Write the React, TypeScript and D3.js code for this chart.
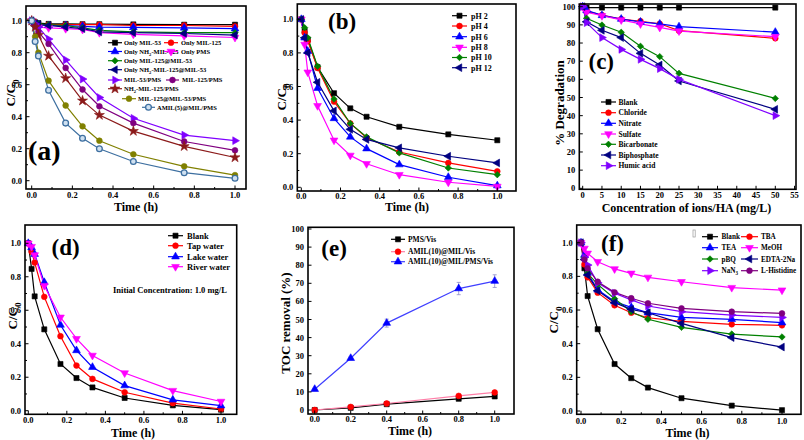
import React from 'react';
import * as d3 from 'd3';

const FONT = '"Liberation Serif", "Times New Roman", Times, serif';

// ---------------- data ----------------
const timeH = [0, 0.017, 0.033, 0.083, 0.167, 0.25, 0.333, 0.5, 0.75, 1.0];

// (a)
const aOnlyMIL53 = [1.0, 0.99, 0.985, 0.98, 0.98, 0.978, 0.978, 0.977, 0.975, 0.975];
const aOnlyMIL125 = [1.0, 0.985, 0.975, 0.975, 0.975, 0.975, 0.975, 0.97, 0.97, 0.965];
const aOnlyNH2MIL125 = [1.0, 0.98, 0.975, 0.97, 0.97, 0.965, 0.96, 0.958, 0.955, 0.95];
const aOnlyPMS = [1.0, 0.97, 0.96, 0.955, 0.95, 0.945, 0.925, 0.915, 0.905, 0.895];
const aOnlyMIL125MIL53 = [1.0, 0.985, 0.98, 0.975, 0.97, 0.955, 0.94, 0.93, 0.925, 0.925];
const aOnlyNH2MIL125MIL53 = [1.0, 0.98, 0.975, 0.97, 0.96, 0.95, 0.93, 0.925, 0.92, 0.91];
const aMIL53PMS = [1.0, 0.98, 0.96, 0.885, 0.755, 0.635, 0.52, 0.39, 0.285, 0.25];
const aMIL125PMS = [1.0, 0.97, 0.93, 0.855, 0.705, 0.57, 0.465, 0.36, 0.245, 0.19];
const aNH2MIL125PMS = [1.0, 0.96, 0.91, 0.78, 0.64, 0.5, 0.41, 0.31, 0.215, 0.145];
const aMIL125MIL53PMS = [1.0, 0.9, 0.8, 0.625, 0.47, 0.34, 0.25, 0.165, 0.09, 0.035];
const aAMIL5 = [1.0, 0.87, 0.78, 0.565, 0.36, 0.265, 0.2, 0.12, 0.05, 0.015];

// (b)
const bPH2 = [1.0, 0.93, 0.88, 0.715, 0.56, 0.47, 0.42, 0.36, 0.315, 0.28];
const bPH4 = [1.0, 0.92, 0.87, 0.71, 0.51, 0.38, 0.295, 0.21, 0.145, 0.095];
const bPH6 = [1.0, 0.89, 0.81, 0.59, 0.41, 0.3, 0.23, 0.135, 0.06, 0.01];
const bPH8 = [1.0, 0.85, 0.685, 0.485, 0.28, 0.19, 0.14, 0.075, 0.03, 0.005];
const bPH10 = [1.0, 0.95, 0.89, 0.72, 0.525, 0.38, 0.3, 0.205, 0.115, 0.075];
const bPH12 = [1.0, 0.89, 0.8, 0.625, 0.455, 0.345, 0.285, 0.235, 0.185, 0.145];

// (c)
const concC = [0, 1, 5, 10, 15, 20, 25, 50];
const cBlank = [100, 99.5, 99.5, 99.5, 99.5, 99.5, 99.5, 99.5];
const cChloride = [100, 97.6, 95.4, 93.2, 92, 90.6, 86.8, 82.6];
const cNitrate = [100, 98, 95.2, 93.2, 91.6, 90.5, 89, 86];
const cSulfate = [100, 96.9, 95, 92.7, 90.5, 88.6, 86.6, 83.5];
const cBicarbonate = [100, 93.6, 89.9, 85.9, 78.2, 72.5, 63.3, 49.5];
const cBiphosphate = [100, 91.7, 87, 83, 74.3, 67.9, 59.1, 43.5];
const cHumic = [100, 91.2, 83, 76.5, 71, 65.9, 60, 40];

// (d)
const dBlank = [1.0, 0.847, 0.683, 0.486, 0.279, 0.195, 0.139, 0.076, 0.032, 0.006];
const dTap = [1.0, 0.95, 0.885, 0.68, 0.445, 0.27, 0.19, 0.11, 0.045, 0.01];
const dLake = [1.0, 0.975, 0.935, 0.767, 0.512, 0.36, 0.26, 0.15, 0.065, 0.03];
const dRiver = [1.0, 0.98, 0.93, 0.747, 0.558, 0.43, 0.33, 0.225, 0.12, 0.055];

// (e)
const timeE = [0, 0.2, 0.4, 0.8, 1.0];
const ePMSVis = [0, 1.2, 3.2, 6.2, 7.5];
const eAMILVis = [0, 1.7, 3.6, 7.8, 9.7];
const eAMILPMSVis = [11.5, 28.6, 48, 67.1, 71.2];
const eAMILPMSVisErr = [0.5, 0.8, 2.2, 3.4, 3.5];

// (f)
const fBlank = [1.0, 0.848, 0.683, 0.486, 0.279, 0.195, 0.139, 0.076, 0.032, 0.005];
const fTBA = [1.0, 0.871, 0.794, 0.703, 0.628, 0.584, 0.554, 0.533, 0.515, 0.509];
const fTEA = [1.0, 0.927, 0.82, 0.72, 0.65, 0.616, 0.584, 0.556, 0.545, 0.525];
const fMeOH = [1.0, 0.966, 0.937, 0.887, 0.844, 0.818, 0.794, 0.768, 0.733, 0.718];
const fPBQ = [1.0, 0.913, 0.818, 0.752, 0.667, 0.59, 0.545, 0.497, 0.457, 0.44];
const fEDTA = [1.0, 0.9, 0.808, 0.715, 0.644, 0.604, 0.584, 0.521, 0.436, 0.38];
const fNaN3 = [1.0, 0.913, 0.867, 0.762, 0.7, 0.66, 0.624, 0.59, 0.57, 0.556];
const fLHis = [1.0, 0.9, 0.848, 0.768, 0.705, 0.67, 0.64, 0.61, 0.59, 0.58];

// tick values
const unitTicks = [0, 0.2, 0.4, 0.6, 0.8, 1.0];
const unitMinor = [0.1, 0.3, 0.5, 0.7, 0.9];
const concTicks = [0, 5, 10, 15, 20, 25, 30, 35, 40, 45, 50, 55];
const pctTicks = [0, 10, 20, 30, 40, 50, 60, 70, 80, 90, 100];

// ---------------- helpers ----------------
const C = {
  black: '#000000', red: '#FF0000', blue: '#0000FF', magenta: '#FF00FF',
  green: '#008000', navy: '#000080', violet: '#8000FF', purple: '#800080',
  wine: '#8B1A1A', olive: '#808000', steel: '#3D6FA0',
};

function Rich({ text, fs }: { text: string; fs: number }) {
  const parts = text.split(/(_.)/).filter((p) => p !== '');
  let shifted = false;
  return (
    <>
      {parts.map((p, i) => {
        if (p.startsWith('_')) {
          shifted = true;
          return (
            <tspan key={i} dy={fs * 0.3} fontSize={fs * 0.7}>
              {p.slice(1)}
            </tspan>
          );
        }
        const dy = shifted ? -fs * 0.3 : 0;
        shifted = false;
        return (
          <tspan key={i} dy={dy}>
            {p}
          </tspan>
        );
      })}
    </>
  );
}

function Marker({ type, x, y, color, size = 26 }: { type: string; x: number; y: number; color: string; size?: number }) {
  let sym: any = d3.symbolSquare;
  let rot = 0;
  let fill = color;
  switch (type) {
    case 'square': sym = d3.symbolSquare; break;
    case 'circle': sym = d3.symbolCircle; break;
    case 'open': sym = d3.symbolCircle; fill = '#cfe0f0'; break;
    case 'up': sym = d3.symbolTriangle; break;
    case 'down': sym = d3.symbolTriangle; rot = 180; break;
    case 'left': sym = d3.symbolTriangle; rot = -90; break;
    case 'right': sym = d3.symbolTriangle; rot = 90; break;
    case 'diamond': sym = d3.symbolSquare; rot = 45; size = size * 0.8; break;
    case 'star': sym = d3.symbolStar; size = size * 1.2; break;
    case 'hex': sym = d3.symbolCircle; break;
  }
  const d = d3.symbol(sym, size)() as string;
  return (
    <path
      d={d}
      transform={`translate(${x},${y}) rotate(${rot})`}
      fill={fill}
      stroke={color}
      strokeWidth={type === 'open' ? 1.3 : 0.6}
    />
  );
}

type Series = { x: number[]; y: number[]; color: string; line?: string; marker: string; err?: number[] };
type LegendItem = { label: string; color: string; line?: string; marker: string; x1: number; x2: number; tx: number; y: number };

type PanelCfg = {
  frame: [number, number, number, number];
  xs: d3.ScaleLinear<number, number>;
  ys: d3.ScaleLinear<number, number>;
  xTicks: number[];
  xMinor: number[];
  yTicks: number[];
  yMinor: number[];
  xFmt: (v: number) => string;
  yFmt: (v: number) => string;
  tickOff: number;
  xLabel: { text: string; x: number; y: number };
  yLabel: { text: string; x: number; y: number };
  series: Series[];
  legend: LegendItem[];
  legendFs: number;
  tag: { text: string; x: number; y: number; fs: number };
};

function Panel({ cfg }: { cfg: PanelCfg }) {
  const [x0, x1, y0, y1] = cfg.frame;
  const { xs, ys } = cfg;
  const lineGen = (s: Series) =>
    d3
      .line<number>()
      .x((_, i) => xs(s.x[i]))
      .y((v) => ys(v))(s.y) as string;
  const tickFs = 8.5;
  return (
    <g fontFamily={FONT} fontWeight="bold">
      {cfg.series.map((s, i) => (
        <path key={'l' + i} d={lineGen(s)} fill="none" stroke={s.line || s.color} strokeWidth={1.2} />
      ))}
      {cfg.series.map((s, i) =>
        s.err
          ? s.err.map((e, j) => {
              const cx = xs(s.x[j]);
              return (
                <g key={'e' + i + '-' + j} stroke="#8c8cc8" strokeWidth={0.8}>
                  <line x1={cx} x2={cx} y1={ys(s.y[j] - e)} y2={ys(s.y[j] + e)} />
                  <line x1={cx - 2} x2={cx + 2} y1={ys(s.y[j] - e)} y2={ys(s.y[j] - e)} />
                  <line x1={cx - 2} x2={cx + 2} y1={ys(s.y[j] + e)} y2={ys(s.y[j] + e)} />
                </g>
              );
            })
          : null
      )}
      {cfg.series.map((s, i) =>
        s.y.map((v, j) => <Marker key={'m' + i + '-' + j} type={s.marker} x={xs(s.x[j])} y={ys(v)} color={s.color} />)
      )}
      <rect x={x0} y={y0} width={x1 - x0} height={y1 - y0} fill="none" stroke="#000" strokeWidth={1.6} />
      {cfg.xTicks.map((t) => (
        <g key={'xt' + t}>
          <line x1={xs(t)} x2={xs(t)} y1={y1} y2={y1 - 3.5} stroke="#000" strokeWidth={1} />
          <text x={xs(t)} y={y1 + cfg.tickOff} fontSize={tickFs} textAnchor="middle">
            {cfg.xFmt(t)}
          </text>
        </g>
      ))}
      {cfg.xMinor.map((t) => (
        <line key={'xm' + t} x1={xs(t)} x2={xs(t)} y1={y1} y2={y1 - 2} stroke="#000" strokeWidth={1} />
      ))}
      {cfg.yTicks.map((t) => (
        <g key={'yt' + t}>
          <line x1={x0} x2={x0 + 3.5} y1={ys(t)} y2={ys(t)} stroke="#000" strokeWidth={1} />
          <text x={x0 - 4} y={ys(t) + 3} fontSize={tickFs} textAnchor="end">
            {cfg.yFmt(t)}
          </text>
        </g>
      ))}
      {cfg.yMinor.map((t) => (
        <line key={'ym' + t} x1={x0} x2={x0 + 2} y1={ys(t)} y2={ys(t)} stroke="#000" strokeWidth={1} />
      ))}
      <text x={cfg.xLabel.x} y={cfg.xLabel.y} fontSize={12} textAnchor="middle">
        {cfg.xLabel.text}
      </text>
      <text
        transform={`translate(${cfg.yLabel.x},${cfg.yLabel.y}) rotate(-90)`}
        fontSize={13}
        textAnchor="middle"
      >
        <Rich text={cfg.yLabel.text} fs={13} />
      </text>
      {cfg.legend.map((l, i) => (
        <g key={'lg' + i}>
          <line x1={l.x1} x2={l.x2} y1={l.y} y2={l.y} stroke={l.line || l.color} strokeWidth={1.2} />
          <Marker type={l.marker} x={(l.x1 + l.x2) / 2} y={l.y} color={l.color} />
          <text x={l.tx} y={l.y + cfg.legendFs * 0.35} fontSize={cfg.legendFs}>
            <Rich text={l.label} fs={cfg.legendFs} />
          </text>
        </g>
      ))}
      <text x={cfg.tag.x} y={cfg.tag.y} fontSize={cfg.tag.fs}>
        {cfg.tag.text}
      </text>
    </g>
  );
}

const f1 = (v: number) => v.toFixed(1);
const f0 = (v: number) => String(v);

// ---------------- panel configs ----------------
const panelA: PanelCfg = {
  frame: [26, 246, 6, 189],
  xs: d3.scaleLinear().domain([0, 1]).range([31.7, 235]),
  ys: d3.scaleLinear().domain([0, 1]).range([180.7, 20.7]),
  xTicks: unitTicks, xMinor: unitMinor, yTicks: unitTicks, yMinor: unitMinor,
  xFmt: f1, yFmt: f1, tickOff: 8.5,
  xLabel: { text: 'Time (h)', x: 136, y: 210.5 },
  yLabel: { text: 'C/C_0', x: 15, y: 93 },
  series: [
    { x: timeH, y: aOnlyMIL53, color: C.black, marker: 'square' },
    { x: timeH, y: aOnlyMIL125, color: C.red, marker: 'circle' },
    { x: timeH, y: aOnlyNH2MIL125, color: C.blue, marker: 'up' },
    { x: timeH, y: aOnlyPMS, color: C.magenta, marker: 'down' },
    { x: timeH, y: aOnlyMIL125MIL53, color: C.green, marker: 'diamond' },
    { x: timeH, y: aOnlyNH2MIL125MIL53, color: C.navy, marker: 'left' },
    { x: timeH, y: aMIL53PMS, color: C.violet, marker: 'right' },
    { x: timeH, y: aMIL125PMS, color: C.purple, marker: 'hex' },
    { x: timeH, y: aNH2MIL125PMS, color: C.wine, marker: 'star' },
    { x: timeH, y: aMIL125MIL53PMS, color: C.olive, marker: 'hex' },
    { x: timeH, y: aAMIL5, color: C.steel, marker: 'open' },
  ],
  legendFs: 6.5,
  legend: [
    { label: 'Only MIL-53', color: C.black, marker: 'square', x1: 108, x2: 122, tx: 124, y: 42.7 },
    { label: 'Only MIL-125', color: C.red, marker: 'circle', x1: 164, x2: 178, tx: 181, y: 42.7 },
    { label: 'Only NH_2-MIL-125', color: C.blue, marker: 'up', x1: 108, x2: 122, tx: 124, y: 51.5 },
    { label: 'Only PMS', color: C.magenta, marker: 'down', x1: 164, x2: 178, tx: 181, y: 51.5 },
    { label: 'Only MIL-125@MIL-53', color: C.green, marker: 'diamond', x1: 108, x2: 122, tx: 124, y: 60.7 },
    { label: 'Only NH_2-MIL-125@MIL-53', color: C.navy, marker: 'left', x1: 108, x2: 122, tx: 124, y: 69.7 },
    { label: 'MIL-53/PMS', color: C.violet, marker: 'right', x1: 108, x2: 122, tx: 124, y: 80 },
    { label: 'MIL-125/PMS', color: C.purple, marker: 'hex', x1: 166, x2: 179, tx: 182, y: 80 },
    { label: 'NH_2-MIL-125/PMS', color: C.wine, marker: 'star', x1: 108, x2: 122, tx: 124, y: 88.7 },
    { label: 'MIL-125@MIL-53/PMS', color: C.olive, marker: 'hex', x1: 122, x2: 136, tx: 138, y: 98.7 },
    { label: 'AMIL(5)@MIL/PMS', color: C.steel, marker: 'open', x1: 142, x2: 155, tx: 157, y: 107.3 },
  ],
  tag: { text: '(a)', x: 28, y: 160, fs: 28 },
};

const panelB: PanelCfg = {
  frame: [297.3, 516, 4, 191],
  xs: d3.scaleLinear().domain([0, 1]).range([301.3, 497.3]),
  ys: d3.scaleLinear().domain([0, 1]).range([187.3, 19.3]),
  xTicks: unitTicks, xMinor: unitMinor, yTicks: unitTicks, yMinor: unitMinor,
  xFmt: f1, yFmt: f1, tickOff: 7.5,
  xLabel: { text: 'Time (h)', x: 407, y: 211 },
  yLabel: { text: 'C/C_0', x: 286, y: 97 },
  series: [
    { x: timeH, y: bPH2, color: C.black, marker: 'square' },
    { x: timeH, y: bPH4, color: C.red, marker: 'circle' },
    { x: timeH, y: bPH6, color: C.blue, marker: 'up' },
    { x: timeH, y: bPH8, color: C.magenta, marker: 'down' },
    { x: timeH, y: bPH10, color: C.green, marker: 'diamond' },
    { x: timeH, y: bPH12, color: C.navy, marker: 'left' },
  ],
  legendFs: 8,
  legend: [
    { label: 'pH 2', color: C.black, marker: 'square', x1: 452, x2: 467, tx: 471, y: 15.7 },
    { label: 'pH 4', color: C.red, marker: 'circle', x1: 452, x2: 467, tx: 471, y: 26 },
    { label: 'pH 6', color: C.blue, marker: 'up', x1: 452, x2: 467, tx: 471, y: 36.7 },
    { label: 'pH 8', color: C.magenta, marker: 'down', x1: 452, x2: 467, tx: 471, y: 47.3 },
    { label: 'pH 10', color: C.green, marker: 'diamond', x1: 452, x2: 467, tx: 471, y: 57.5 },
    { label: 'pH 12', color: C.navy, marker: 'left', x1: 452, x2: 467, tx: 471, y: 67.7 },
  ],
  tag: { text: '(b)', x: 328, y: 29, fs: 23 },
};

const panelC: PanelCfg = {
  frame: [579.3, 796, 4, 189.3],
  xs: d3.scaleLinear().domain([0, 50]).range([582.7, 775.3]),
  ys: d3.scaleLinear().domain([0, 100]).range([188.3, 6.7]),
  xTicks: concTicks, xMinor: [], yTicks: pctTicks, yMinor: [],
  xFmt: f0, yFmt: f0, tickOff: 9,
  xLabel: { text: 'Concentration of ions/HA (mg/L)', x: 686.5, y: 211.5 },
  yLabel: { text: '% Degradation', x: 563.5, y: 103 },
  series: [
    { x: concC, y: cBlank, color: C.black, marker: 'square' },
    { x: concC, y: cChloride, color: C.red, marker: 'circle' },
    { x: concC, y: cNitrate, color: C.blue, marker: 'up' },
    { x: concC, y: cSulfate, color: C.magenta, marker: 'down' },
    { x: concC, y: cBicarbonate, color: C.green, marker: 'diamond' },
    { x: concC, y: cBiphosphate, color: C.navy, marker: 'left' },
    { x: concC, y: cHumic, color: C.violet, marker: 'right' },
  ],
  legendFs: 7.5,
  legend: [
    { label: 'Blank', color: C.black, marker: 'square', x1: 601, x2: 616, tx: 618.5, y: 102 },
    { label: 'Chloride', color: C.red, marker: 'circle', x1: 601, x2: 616, tx: 618.5, y: 112.7 },
    { label: 'Nitrate', color: C.blue, marker: 'up', x1: 601, x2: 616, tx: 618.5, y: 123.3 },
    { label: 'Sulfate', color: C.magenta, marker: 'down', x1: 601, x2: 616, tx: 618.5, y: 134 },
    { label: 'Bicarbonate', color: C.green, marker: 'diamond', x1: 601, x2: 616, tx: 618.5, y: 144.3 },
    { label: 'Biphosphate', color: C.navy, marker: 'left', x1: 601, x2: 616, tx: 618.5, y: 155 },
    { label: 'Humic acid', color: C.violet, marker: 'right', x1: 601, x2: 616, tx: 618.5, y: 165.7 },
  ],
  tag: { text: '(c)', x: 588.5, y: 68.5, fs: 23 },
};

const panelD: PanelCfg = {
  frame: [25, 236.7, 225, 414.3],
  xs: d3.scaleLinear().domain([0, 1]).range([28.3, 221]),
  ys: d3.scaleLinear().domain([0, 1]).range([410.7, 243.3]),
  xTicks: unitTicks, xMinor: unitMinor, yTicks: unitTicks, yMinor: unitMinor,
  xFmt: f1, yFmt: f1, tickOff: 9,
  xLabel: { text: 'Time (h)', x: 133, y: 436.5 },
  yLabel: { text: 'C/C_0', x: 17, y: 316 },
  series: [
    { x: timeH, y: dBlank, color: C.black, marker: 'square' },
    { x: timeH, y: dTap, color: C.red, marker: 'circle' },
    { x: timeH, y: dLake, color: C.blue, marker: 'up' },
    { x: timeH, y: dRiver, color: C.magenta, marker: 'down' },
  ],
  legendFs: 8.5,
  legend: [
    { label: 'Blank', color: C.black, marker: 'square', x1: 168, x2: 183, tx: 187, y: 235.7 },
    { label: 'Tap water', color: C.red, marker: 'circle', x1: 168, x2: 183, tx: 187, y: 245.7 },
    { label: 'Lake water', color: C.blue, marker: 'up', x1: 168, x2: 183, tx: 187, y: 256.7 },
    { label: 'River water', color: C.magenta, marker: 'down', x1: 168, x2: 183, tx: 187, y: 266.7 },
  ],
  tag: { text: '(d)', x: 51.5, y: 255, fs: 23 },
};

const panelE: PanelCfg = {
  frame: [308, 514, 227.3, 414],
  xs: d3.scaleLinear().domain([0, 1]).range([314.7, 494.7]),
  ys: d3.scaleLinear().domain([0, 100]).range([410, 229]),
  xTicks: unitTicks, xMinor: unitMinor, yTicks: pctTicks, yMinor: [],
  xFmt: f1, yFmt: f0, tickOff: 8,
  xLabel: { text: 'Time (h)', x: 410, y: 435 },
  yLabel: { text: 'TOC removal (%)', x: 289.5, y: 323 },
  series: [
    { x: timeE, y: ePMSVis, color: C.black, marker: 'square' },
    { x: timeE, y: eAMILVis, color: C.red, line: '#FF7FA8', marker: 'circle' },
    { x: timeE, y: eAMILPMSVis, color: C.blue, line: '#3F3FFF', marker: 'up', err: eAMILPMSVisErr },
  ],
  legendFs: 7.5,
  legend: [
    { label: 'PMS/Vis', color: C.black, marker: 'square', x1: 391, x2: 405, tx: 408, y: 239.3 },
    { label: 'AMIL(10)@MIL/Vis', color: C.red, line: '#FF7FA8', marker: 'circle', x1: 391, x2: 405, tx: 408, y: 251.7 },
    { label: 'AMIL(10)@MIL/PMS/Vis', color: C.blue, line: '#3F3FFF', marker: 'up', x1: 391, x2: 405, tx: 408, y: 261.7 },
  ],
  tag: { text: '(e)', x: 321.3, y: 255.5, fs: 23 },
};

const panelF: PanelCfg = {
  frame: [576.7, 801, 225, 414.3],
  xs: d3.scaleLinear().domain([0, 1]).range([581, 782]),
  ys: d3.scaleLinear().domain([0, 1]).range([411, 242.7]),
  xTicks: unitTicks, xMinor: unitMinor, yTicks: unitTicks, yMinor: unitMinor,
  xFmt: f1, yFmt: f1, tickOff: 9.5,
  xLabel: { text: 'Time (h)', x: 687.5, y: 436.5 },
  yLabel: { text: 'C/C_0', x: 558, y: 320 },
  series: [
    { x: timeH, y: fBlank, color: C.black, marker: 'square' },
    { x: timeH, y: fTBA, color: C.red, marker: 'circle' },
    { x: timeH, y: fTEA, color: C.blue, marker: 'up' },
    { x: timeH, y: fMeOH, color: C.magenta, marker: 'down' },
    { x: timeH, y: fPBQ, color: C.green, marker: 'diamond' },
    { x: timeH, y: fEDTA, color: C.navy, marker: 'left' },
    { x: timeH, y: fNaN3, color: C.violet, marker: 'right' },
    { x: timeH, y: fLHis, color: C.purple, marker: 'hex' },
  ],
  legendFs: 7.2,
  legend: [
    { label: 'Blank', color: C.black, marker: 'square', x1: 702, x2: 718, tx: 721.5, y: 236.7 },
    { label: 'TBA', color: C.red, marker: 'circle', x1: 741, x2: 758, tx: 761, y: 236.7 },
    { label: 'TEA', color: C.blue, marker: 'up', x1: 702, x2: 718, tx: 721.5, y: 247.7 },
    { label: 'MeOH', color: C.magenta, marker: 'down', x1: 741, x2: 758, tx: 761, y: 247.7 },
    { label: 'pBQ', color: C.green, marker: 'diamond', x1: 702, x2: 718, tx: 721.5, y: 259 },
    { label: 'EDTA-2Na', color: C.navy, marker: 'left', x1: 741, x2: 758, tx: 761, y: 259 },
    { label: 'NaN_3', color: C.violet, marker: 'right', x1: 702, x2: 718, tx: 721.5, y: 270.7 },
    { label: 'L-Histidine', color: C.purple, marker: 'hex', x1: 741, x2: 758, tx: 761, y: 270.7 },
  ],
  tag: { text: '(f)', x: 601, y: 250.5, fs: 23 },
};

const panels = [panelA, panelB, panelC, panelD, panelE, panelF];

export default function App() {
  return (
    <svg
      width={804}
      height={440}
      viewBox="0 0 804 440"
      style={{ position: 'absolute', left: 0, top: 0, background: '#fff' }}
    >
      <rect x={0} y={0} width={804} height={440} fill="#fff" />
      {panels.map((p, i) => (
        <Panel key={i} cfg={p} />
      ))}
      <text x={113} y={293} fontFamily={FONT} fontWeight="bold" fontSize={8.5}>
        Initial Concentration: 1.0 mg/L
      </text>
      <rect x={693} y={230} width={2.2} height={7} fill="none" stroke="#999" strokeWidth={0.7} />
    </svg>
  );
}
